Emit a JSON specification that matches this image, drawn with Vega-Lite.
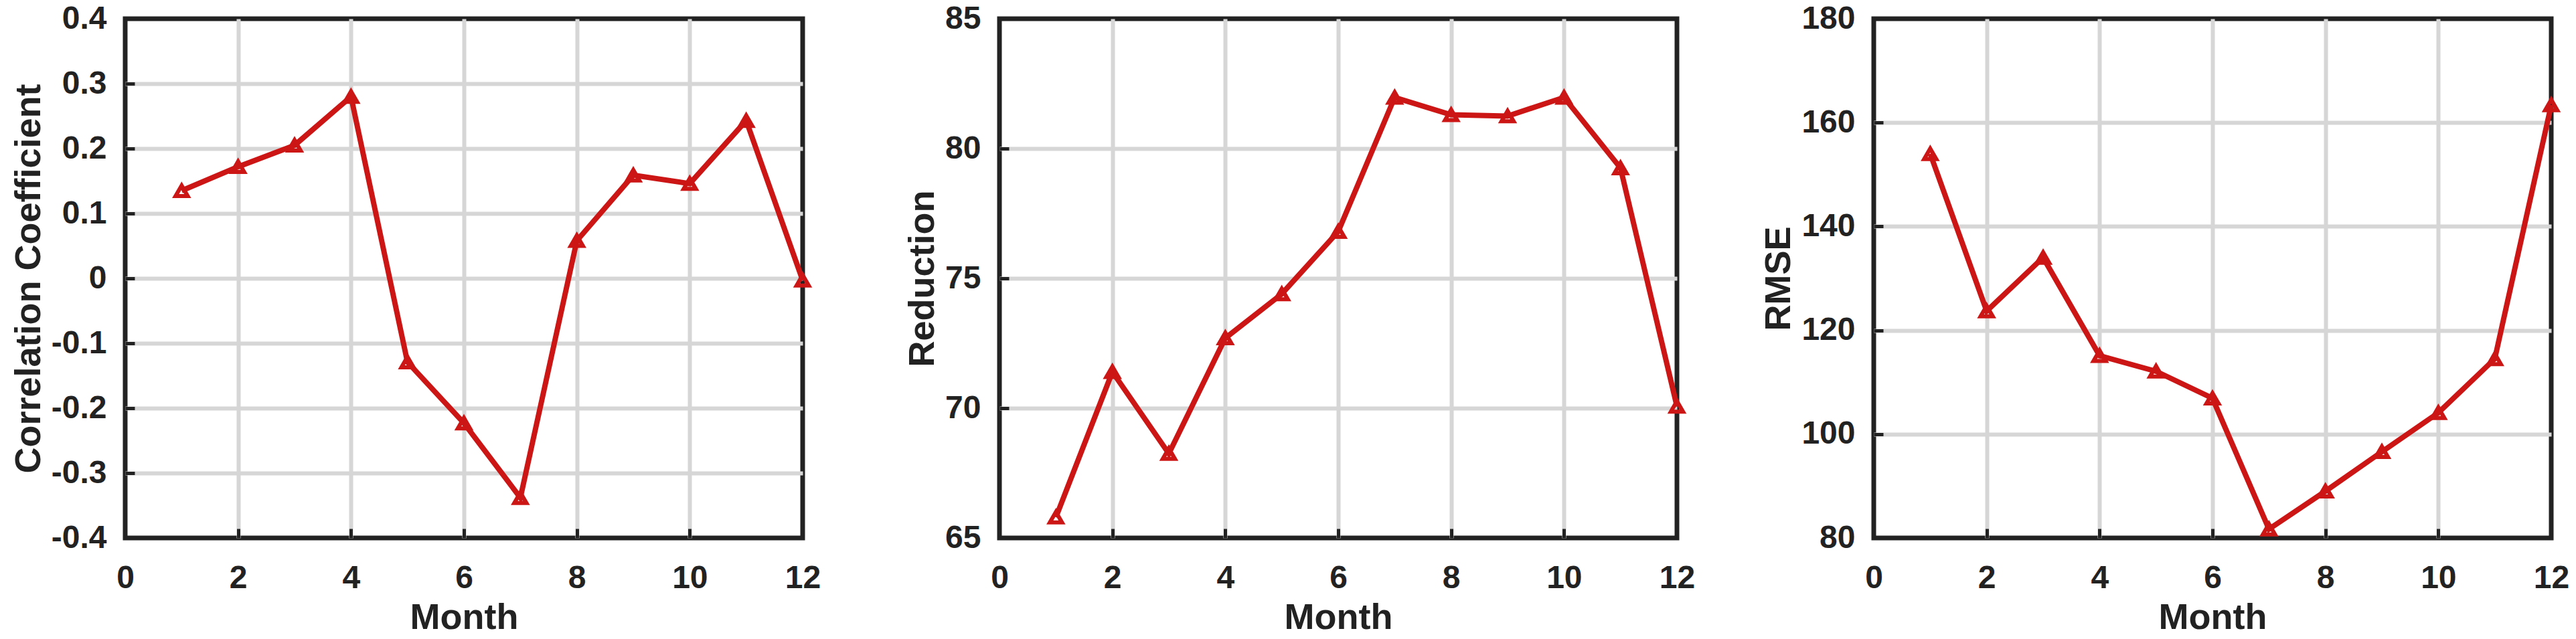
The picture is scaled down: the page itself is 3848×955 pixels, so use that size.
{
  "$schema": "https://vega.github.io/schema/vega-lite/v6.json",
  "padding": {"left": 12, "right": 10, "top": 0, "bottom": 0},
  "background": "white",
  "data": {"values": [
    {"month": 1, "corr": 0.135, "red": 65.8, "rmse": 154.0},
    {"month": 2, "corr": 0.172, "red": 71.4, "rmse": 123.7},
    {"month": 3, "corr": 0.205, "red": 68.25, "rmse": 134.0},
    {"month": 4, "corr": 0.28, "red": 72.7, "rmse": 115.1},
    {"month": 5, "corr": -0.129, "red": 74.4, "rmse": 112.1},
    {"month": 6, "corr": -0.223, "red": 76.8, "rmse": 106.9},
    {"month": 7, "corr": -0.338, "red": 81.97, "rmse": 81.7},
    {"month": 8, "corr": 0.058, "red": 81.3, "rmse": 89.0},
    {"month": 9, "corr": 0.159, "red": 81.25, "rmse": 96.6},
    {"month": 10, "corr": 0.146, "red": 81.97, "rmse": 104.1},
    {"month": 11, "corr": 0.243, "red": 79.25, "rmse": 114.5},
    {"month": 12, "corr": -0.003, "red": 70.07, "rmse": 163.4}
  ]},
  "spacing": 294,
  "bounds": "flush",
  "hconcat": [
    {
      "width": 1012, "height": 776,
      "encoding": {
        "x": {"field": "month", "type": "quantitative", "title": "Month",
              "scale": {"domain": [0, 12], "nice": false},
              "axis": {"values": [0, 2, 4, 6, 8, 10, 12],
                       "gridColor": {"condition": {"test": "datum.value === 0 || datum.value === 12", "value": "transparent"}, "value": "#d6d6d6"}}},
        "y": {"field": "corr", "type": "quantitative", "title": "Correlation Coefficient",
              "scale": {"domain": [-0.4, 0.4], "nice": false, "zero": false},
              "axis": {"values": [-0.4, -0.3, -0.2, -0.1, 0, 0.1, 0.2, 0.3, 0.4],
                       "labelExpr": "replace(format(datum.value, '.1~f'), '\u2212', '-')",
                       "gridColor": {"condition": {"test": "abs(datum.value) > 0.35", "value": "transparent"}, "value": "#d6d6d6"}}}
      },
      "layer": [
        {"mark": {"type": "line", "color": "#cc1616", "strokeWidth": 8}},
        {"mark": {"type": "point", "shape": "triangle-up", "filled": false, "color": "#cc1616", "strokeWidth": 6, "size": 330, "opacity": 1}}
      ]
    },
    {
      "width": 1012, "height": 776,
      "encoding": {
        "x": {"field": "month", "type": "quantitative", "title": "Month",
              "scale": {"domain": [0, 12], "nice": false},
              "axis": {"values": [0, 2, 4, 6, 8, 10, 12],
                       "gridColor": {"condition": {"test": "datum.value === 0 || datum.value === 12", "value": "transparent"}, "value": "#d6d6d6"}}},
        "y": {"field": "red", "type": "quantitative", "title": "Reduction",
              "scale": {"domain": [65, 85], "nice": false, "zero": false},
              "axis": {"values": [65, 70, 75, 80, 85],
                       "gridColor": {"condition": {"test": "datum.value === 65 || datum.value === 85", "value": "transparent"}, "value": "#d6d6d6"}}}
      },
      "layer": [
        {"mark": {"type": "line", "color": "#cc1616", "strokeWidth": 8}},
        {"mark": {"type": "point", "shape": "triangle-up", "filled": false, "color": "#cc1616", "strokeWidth": 6, "size": 330, "opacity": 1}}
      ]
    },
    {
      "width": 1012, "height": 776,
      "encoding": {
        "x": {"field": "month", "type": "quantitative", "title": "Month",
              "scale": {"domain": [0, 12], "nice": false},
              "axis": {"values": [0, 2, 4, 6, 8, 10, 12],
                       "gridColor": {"condition": {"test": "datum.value === 0 || datum.value === 12", "value": "transparent"}, "value": "#d6d6d6"}}},
        "y": {"field": "rmse", "type": "quantitative", "title": "RMSE",
              "scale": {"domain": [80, 180], "nice": false, "zero": false},
              "axis": {"values": [80, 100, 120, 140, 160, 180],
                       "gridColor": {"condition": {"test": "datum.value === 80 || datum.value === 180", "value": "transparent"}, "value": "#d6d6d6"}}}
      },
      "layer": [
        {"mark": {"type": "line", "color": "#cc1616", "strokeWidth": 8}},
        {"mark": {"type": "point", "shape": "triangle-up", "filled": false, "color": "#cc1616", "strokeWidth": 6, "size": 330, "opacity": 1}}
      ]
    }
  ],
  "config": {
    "font": "Liberation Sans",
    "view": {"stroke": "#222222", "strokeWidth": 7},
    "axis": {
      "grid": true, "gridWidth": 6, "domain": false,
      "ticks": true, "tickSize": -14, "tickWidth": 5, "tickColor": "#222222",
      "labelFont": "Liberation Sans", "labelFontSize": 48, "labelFontWeight": "bold", "labelColor": "#222222",
      "titleFont": "Liberation Sans", "titleFontSize": 54, "titleFontWeight": "bold", "titleColor": "#222222"
    },
    "axisX": {"labelPadding": 50, "titlePadding": 8, "labelFlush": false, "labelOverlap": false},
    "axisY": {"labelPadding": 42, "titlePadding": 6, "labelOverlap": false}
  }
}
